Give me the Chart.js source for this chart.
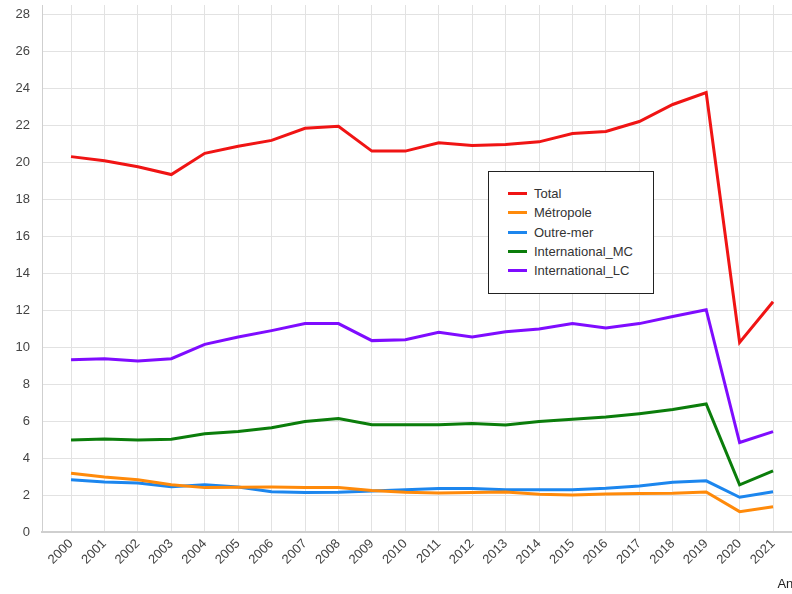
<!DOCTYPE html>
<html>
<head>
<meta charset="utf-8">
<script src="https://cdn.jsdelivr.net/npm/chart.js@4"></script>
<style>
  html, body { margin: 0; padding: 0; background: #fff; overflow: hidden; width: 792px; height: 594px; }
  #wrap { position: absolute; left: 0; top: 0; width: 815px; height: 594px; }
  #legend { position: absolute; left: 488px; top: 171px; width: 164px; height: 121px; border: 1px solid #222; background: #fff;
            font-family: "Liberation Sans", Arial, sans-serif; font-size: 13px; color: #333; }
  .item { position: absolute; left: 0; height: 19px; line-height: 19px; white-space: nowrap; }
  .swatch { position: absolute; left: 19px; top: 8px; width: 19px; height: 3px; }
  .lbl { position: absolute; left: 45px; top: 0; }
</style>
</head>
<body>
<div id="wrap">
  <canvas id="c" width="815" height="594"></canvas>
  <div id="legend"></div>
</div>
<script>
const categories = [2000, 2001, 2002, 2003, 2004, 2005, 2006, 2007, 2008, 2009, 2010,
                    2011, 2012, 2013, 2014, 2015, 2016, 2017, 2018, 2019, 2020, 2021];
const total      = [20.3, 20.08, 19.75, 19.33, 20.48, 20.86, 21.18, 21.83, 21.94, 20.6, 20.6,
                    21.05, 20.9, 20.95, 21.1, 21.55, 21.66, 22.2, 23.12, 23.77, 10.25, 12.45];
const metropole  = [3.18, 2.97, 2.82, 2.55, 2.4, 2.42, 2.43, 2.41, 2.4, 2.24, 2.15,
                    2.11, 2.14, 2.16, 2.04, 2.0, 2.06, 2.08, 2.1, 2.16, 1.1, 1.37];
const outremer   = [2.82, 2.7, 2.65, 2.45, 2.55, 2.43, 2.18, 2.14, 2.15, 2.22, 2.29,
                    2.35, 2.35, 2.29, 2.29, 2.29, 2.36, 2.49, 2.69, 2.77, 1.88, 2.18];
const intMC      = [4.97, 5.03, 4.97, 5.02, 5.31, 5.43, 5.64, 5.98, 6.14, 5.8, 5.8,
                    5.8, 5.87, 5.79, 5.97, 6.1, 6.22, 6.4, 6.62, 6.92, 2.55, 3.3];
const intLC      = [9.32, 9.37, 9.25, 9.37, 10.15, 10.55, 10.89, 11.27, 11.27, 10.35, 10.4,
                    10.8, 10.55, 10.83, 10.98, 11.27, 11.03, 11.27, 11.65, 12.02, 4.84, 5.43];
const seriesNames = ["Total", "Métropole", "Outre-mer", "International_MC", "International_LC"];
const yTickLabels = [0, 2, 4, 6, 8, 10, 12, 14, 16, 18, 20, 22, 24, 26, 28];
const xTitle = "Année";

const colors = ["#f01414", "#ff8a0a", "#1c86ee", "#0b7d0b", "#7f0cff"];
const allSeries = [total, metropole, outremer, intMC, intLC];

const datasets = allSeries.map((vals, k) => ({
  label: seriesNames[k],
  data: categories.map((yr, i) => ({ x: yr, y: vals[i] })),
  borderColor: colors[k],
  backgroundColor: colors[k],
  borderWidth: 3,
  pointRadius: 0,
  tension: 0,
  fill: false
}));

const font = { family: '"Liberation Sans", Arial, sans-serif', size: 13 };

new Chart(document.getElementById('c'), {
  type: 'line',
  data: { datasets: datasets },
  options: {
    responsive: false,
    animation: false,
    devicePixelRatio: 1,
    layout: { padding: { top: 5, left: 0, right: 0, bottom: 0 } },
    plugins: { legend: { display: false }, tooltip: { enabled: false } },
    scales: {
      x: {
        type: 'linear',
        min: 1999.132,
        max: 2022.255,
        afterFit: s => { s.height = 62; s.paddingLeft = 0; s.paddingRight = 0; },
        afterBuildTicks: s => { s.ticks = categories.map(v => ({ value: v })); },
        ticks: {
          stepSize: 1,
          includeBounds: false,
          autoSkip: false,
          maxRotation: 45,
          minRotation: 45,
          padding: 4,
          color: '#444',
          font: font,
          callback: v => String(v)
        },
        grid: { color: '#e2e2e2', drawTicks: false, tickLength: 0 },
        border: { color: '#cfcfcf', width: 2 },
        title: { display: true, text: xTitle, align: 'end', color: '#222', font: font, padding: { top: 0, bottom: 2 } }
      },
      y: {
        type: 'linear',
        min: 0,
        max: 28.5,
        afterFit: s => { s.width = 42; s.paddingTop = 0; s.paddingBottom = 0; },
        afterBuildTicks: s => { s.ticks = yTickLabels.map(v => ({ value: v })); },
        ticks: { color: '#444', font: font, padding: 12, callback: v => String(v) },
        grid: { color: '#e2e2e2', drawTicks: false, tickLength: 0 },
        border: { color: '#cfcfcf', width: 1 }
      }
    }
  }
});

const legend = document.getElementById('legend');
seriesNames.forEach((name, k) => {
  const it = document.createElement('div');
  it.className = 'item';
  it.style.top = (12 + k * 19.3) + 'px';
  it.innerHTML = '<span class="swatch" style="background:' + colors[k] + '"></span><span class="lbl"></span>';
  it.querySelector('.lbl').textContent = name;
  legend.appendChild(it);
});
</script>
</body>
</html>
